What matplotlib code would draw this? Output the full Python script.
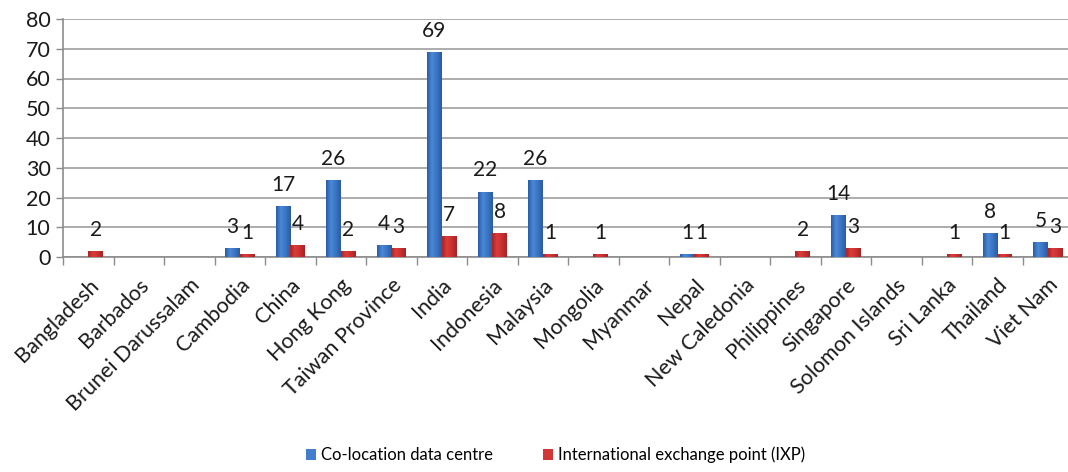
import numpy as np
import matplotlib
matplotlib.use("Agg")
import matplotlib.pyplot as plt
from matplotlib.colors import LinearSegmentedColormap

countries = ["Bangladesh", "Barbados", "Brunei Darussalam", "Cambodia", "China",
             "Hong Kong", "Taiwan Province", "India", "Indonesia", "Malaysia",
             "Mongolia", "Myanmar", "Nepal", "New Caledonia", "Philippines",
             "Singapore", "Solomon Islands", "Sri Lanka", "Thailand", "Viet Nam"]
colocation = [0, 0, 0, 3, 17, 26, 4, 69, 22, 26, 0, 0, 1, 0, 0, 14, 0, 0, 8, 5]
ixp = [2, 0, 0, 1, 4, 2, 3, 7, 8, 1, 1, 0, 1, 0, 2, 3, 0, 1, 1, 3]

plt.rcParams['font.family'] = ['Lato', 'DejaVu Sans']

# left-dark / mid-light / right-dark shading like the office chart bars
blue_cmap = LinearSegmentedColormap.from_list("b", ["#2a5ca8", "#4a88d6", "#3a74c2", "#2a5aa4"])
red_cmap = LinearSegmentedColormap.from_list("r", ["#a82424", "#dc3c3a", "#c83030", "#a82222"])


def shaded_bars(ax, x, heights, width, cmap, label):
    bars = ax.bar(x, heights, width, align='edge', color=cmap(0.5), label=label,
                  linewidth=0, zorder=2)
    grad = np.linspace(0, 1, 64).reshape(1, -1)
    for b in bars:
        h = b.get_height()
        if h <= 0:
            continue
        x0 = b.get_x()
        im = ax.imshow(grad, cmap=cmap, aspect='auto', zorder=3,
                       extent=(x0, x0 + b.get_width(), 0, h), interpolation='bilinear')
        im.set_clip_path(b)
    return bars


fig = plt.figure(figsize=(10.68, 4.72), dpi=100)
ax = fig.add_axes([63 / 1068, 215 / 472, 1010 / 1068, 238 / 472])

idx = np.arange(len(countries))
w = 0.29
b1 = shaded_bars(ax, idx + 0.5 - w, colocation, w, blue_cmap, "Co-location data centre")
b2 = shaded_bars(ax, idx + 0.5, ixp, w, red_cmap, "International exchange point (IXP)")

for bars in (b1, b2):
    for b in bars:
        h = b.get_height()
        if h > 0:
            ax.annotate(f"{int(h)}", (b.get_x() + b.get_width() / 2, h),
                        xytext=(0, 8), textcoords='offset points',
                        ha='center', va='bottom', fontsize=15, color='#1a1a1a')

ax.set_xlim(0, len(countries))
ax.set_ylim(0, 80)
ax.set_yticks(range(0, 81, 10))
ax.yaxis.grid(True, color='#a6a6a6', linewidth=1.3, zorder=0)
ax.set_axisbelow(True)
ax.tick_params(axis='y', length=5, width=1, color='#8c8c8c', labelsize=15.5,
               labelcolor='#1a1a1a', pad=4)

ax.set_xticks(idx, minor=True)
ax.set_xticks(idx + 0.5)
ax.set_xticklabels(countries, rotation=45, ha='right', rotation_mode='anchor',
                   fontsize=15.5, color='#1a1a1a')
ax.tick_params(axis='x', which='major', length=0, pad=13)
ax.tick_params(axis='x', which='minor', length=6, width=1, color='#8c8c8c')

for s in ('top', 'right'):
    ax.spines[s].set_visible(False)
ax.spines['left'].set_color('#8c8c8c')
ax.spines['bottom'].set_color('#8c8c8c')
ax.spines['left'].set_linewidth(1.2)
ax.spines['bottom'].set_linewidth(1.2)

fig.legend(handles=[b1, b2], loc='center left', bbox_to_anchor=(298 / 1068, 0.036), ncol=2,
           frameon=False, fontsize=12, handlelength=0.6, handleheight=0.6,
           handletextpad=0.3, columnspacing=3.0, borderpad=0)

fig.savefig("out.png", dpi=100)
